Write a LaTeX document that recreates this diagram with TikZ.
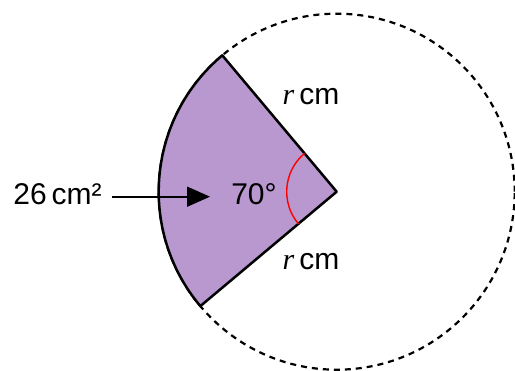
\documentclass[tikz,border=0pt]{standalone}
\usepackage{fontspec}
\setmainfont{Liberation Sans}
\newfontfamily\seriffont{Liberation Serif}
\usepackage{xcolor}
\usetikzlibrary{arrows.meta}
\definecolor{sectorfill}{RGB}{184,152,206}

\begin{document}
\begin{tikzpicture}[x=1pt, y=1pt,
  lbl/.style={font=\fontsize{30}{35}\selectfont, inner sep=0pt},
  rim/.style={dash pattern=on 6pt off 5pt, line width=2.2pt},
  edge/.style={line width=2.5pt, line join=round, fill=sectorfill},
  arr/.style={-{Triangle[length=23pt, width=20pt]}, line width=1.8pt}
]
  \useasboundingbox (0,0) rectangle (515,371);
  \coordinate (O) at (336.7,179.3);
  \coordinate (tip) at (210,174.3);
  % whole circle, then the sector on top
  \draw[rim] (O) circle (178);
  \draw[edge] (O) -- ++(130:178) arc (130:220:178) -- cycle;
  \draw[red, line width=1.4pt] ([shift={(130:50)}]O) arc (130:220:50);
  \node[lbl] (angle) at (254,177) {70°};
  \node[lbl] (top)   at (311,274) {{\seriffont\itshape r}\,cm};
  \node[lbl] (bot)   at (311,109) {{\seriffont\itshape r}\,cm};
  \node[lbl] (area)  at (57.5,177) {26\,cm²};
  \draw[arr] ([xshift=10pt]area.east |- tip) -- (tip);
\end{tikzpicture}
\end{document}
